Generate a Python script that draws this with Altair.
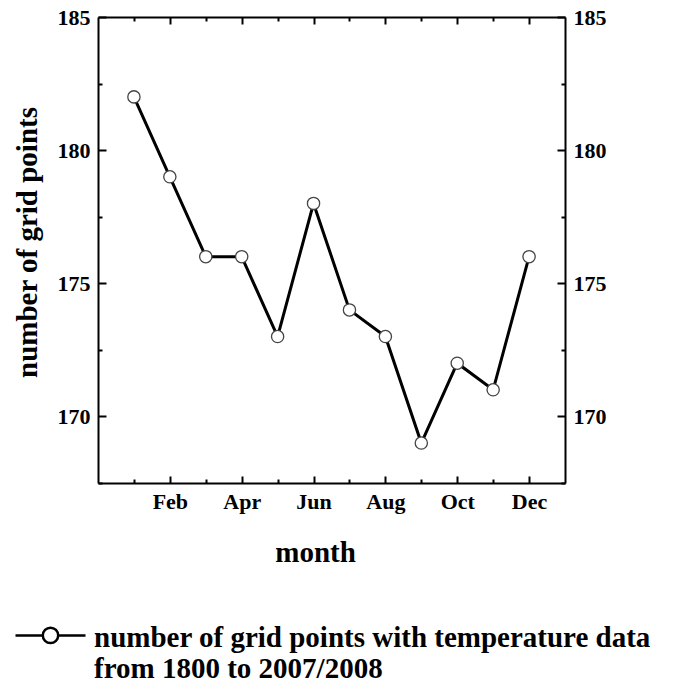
import altair as alt
import pandas as pd

month_names = ["Jan", "Feb", "Mar", "Apr", "May", "Jun", "Jul", "Aug", "Sep", "Oct", "Nov", "Dec"]
month_nums = [1, 2, 3, 4, 5, 6, 7, 8, 9, 10, 11, 12]
grid_points = [182, 179, 176, 176, 173, 178, 174, 173, 169, 172, 171, 176]
series_name = "number of grid points with temperature data from 1800 to 2007/2008"
legend_lines = ["number of grid points with temperature data", "from 1800 to 2007/2008"]
x_major = [2, 4, 6, 8, 10, 12]
x_minor = [1, 3, 5, 7, 9, 11]
y_major = [170, 175, 180, 185]
y_minor = [167.5, 172.5, 177.5, 182.5]

df = pd.DataFrame({"month": month_nums, "name": month_names,
                   "points": grid_points, "series": series_name})

FONT = "Liberation Serif"
xscale = alt.Scale(domain=[0, 13], nice=False, zero=False)
yscale = alt.Scale(domain=[167.5, 185], nice=False, zero=False)

month_lookup = "[" + ",".join("'" + m + "'" for m in [""] + month_names) + "][datum.value]"
legend_expr = "[" + ",".join("'" + s + "'" for s in legend_lines) + "]"


def make_axis(orient, values, size, labels=False, domain=False, title="", **kw):
    return alt.Axis(orient=orient, values=values, tickSize=alt.ExprRef(expr=str(-size)),
                    tickWidth=2, tickColor="black", labels=labels, domain=domain,
                    domainColor="black", domainWidth=2, grid=False, title=title, **kw)


common_label = dict(labelFont=FONT, labelFontWeight="bold", labelFontSize=22,
                    labelColor="black")
common_title = dict(titleFont=FONT, titleFontWeight="bold", titleFontSize=29,
                    titleColor="black")

x_bottom = make_axis("bottom", x_major, 7, labels=True, domain=True, title="month",
                     labelExpr=month_lookup, labelPadding=15, labelBaseline="top",
                     titleX=217, titleY=78, titleBaseline="alphabetic", titleAlign="center",
                     **common_label, **common_title)
x_bottom_minor = make_axis("bottom", x_minor, 4)
x_top = make_axis("top", x_major, 7, domain=True)
x_top_minor = make_axis("top", x_minor, 4)

y_left = make_axis("left", y_major, 8, labels=True, domain=True, title="number of grid points",
                   labelPadding=16, titleAngle=270, titleX=-71, titleY=225,
                   titleAlign="center", titleBaseline="middle",
                   **common_label, **common_title)
y_left_minor = make_axis("left", y_minor, 4)
y_right = make_axis("right", y_major, 8, labels=True, domain=True, labelPadding=16,
                    **common_label)
y_right_minor = make_axis("right", y_minor, 4)

base = alt.Chart(df)

legend_symbol = ("M-1,-0.06 L-0.22,-0.06 M0.22,-0.06 L1,-0.06 "
                 "M-0.22,-0.06 A0.22,0.22 0 1,1 0.22,-0.06 A0.22,0.22 0 1,1 -0.22,-0.06 Z")

line = base.mark_line(strokeWidth=3).encode(
    x=alt.X("month:Q", scale=xscale, axis=x_bottom),
    y=alt.Y("points:Q", scale=yscale, axis=y_left),
    stroke=alt.Stroke("series:N", scale=alt.Scale(range=["black"]),
                      legend=alt.Legend(
                          orient="none", legendX=-84, legendY=584, padding=0, title=None,
                          labelExpr=legend_expr, labelFont=FONT, labelFontWeight="bold",
                          labelFontSize=29, labelColor="black", labelLimit=0,
                          labelOffset=7, labelBaseline="middle",
                          symbolType=legend_symbol, symbolSize=70 * 70,
                          symbolStrokeWidth=2.5, symbolStrokeColor="black",
                          symbolFillColor="white")),
)

pts = base.mark_point(filled=True, fill="white", stroke="#444444", strokeWidth=1.3,
                      size=150, opacity=1).encode(
    x=alt.X("month:Q", scale=xscale, axis=x_top),
    y=alt.Y("points:Q", scale=yscale, axis=y_right),
)

inv1 = base.mark_point(opacity=0).encode(
    x=alt.X("month:Q", scale=xscale, axis=x_bottom_minor),
    y=alt.Y("points:Q", scale=yscale, axis=y_left_minor),
)
inv2 = base.mark_point(opacity=0).encode(
    x=alt.X("month:Q", scale=xscale, axis=x_top_minor),
    y=alt.Y("points:Q", scale=yscale, axis=y_right_minor),
)

chart = alt.layer(line, pts, inv1, inv2).resolve_axis(
    x="independent", y="independent"
).properties(
    width=467, height=466,
    autosize=alt.AutoSizeParams(type="none"),
    padding={"left": 90, "top": 9, "right": 110, "bottom": 198},
).configure_view(stroke=None).configure(background="white")

chart.save("out.html", embed_options={"renderer": "svg", "actions": False})
